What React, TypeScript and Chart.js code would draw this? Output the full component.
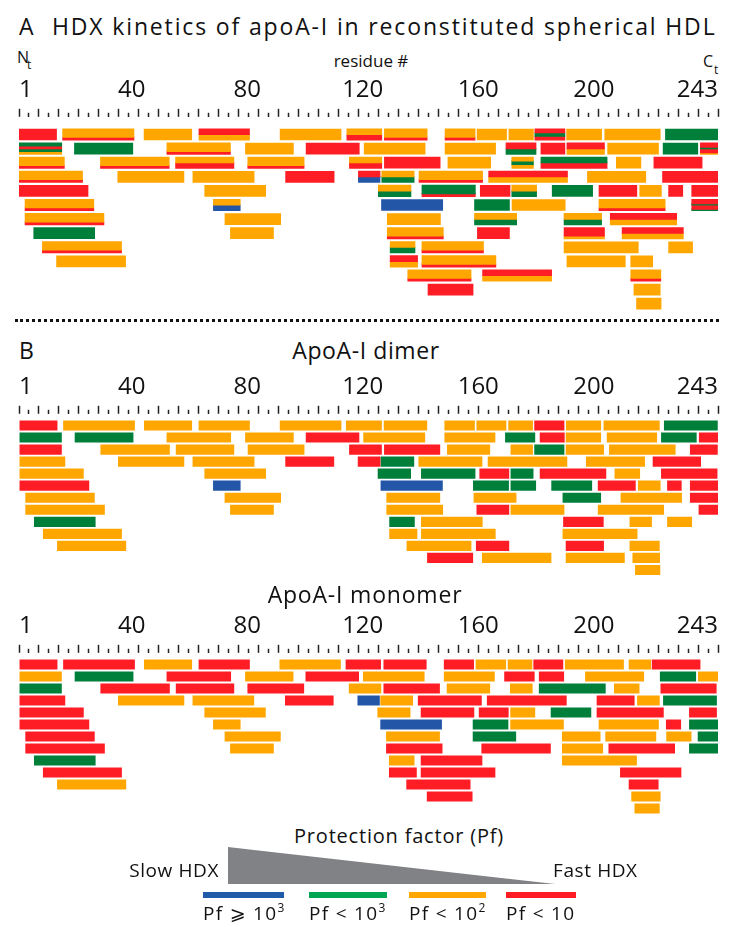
import React, { useEffect, useRef } from 'react';
import { Chart, registerables } from 'chart.js';

Chart.register(...registerables);

// ---------- data ----------
// peptide: [first residue, last residue, row, protection class code]
// class letters: R = Pf<10, O = Pf<10^2, G = Pf<10^3, B = Pf>=10^3
// several letters = mixed (bimodal) classes stacked top→bottom; lowercase = minor part
type Peptide = [number, number, number, string];

const residueTickLabels = [1, 40, 80, 120, 160, 200, 243];
const residueMin = 1;
const residueMax = 243;

const hdlPeptides: Peptide[] = [
  [1.1, 14.0, 0, 'R'], [16.1, 40.8, 0, 'Or'], [44.3, 60.8, 0, 'O'], [63.3, 80.8, 0, 'RO'], [91.4, 112.5, 0, 'O'], [114.5, 126.6, 0, 'OR'], [127.5, 142.3, 0, 'Or'], [148.5, 158.9, 0, 'Or'], [159.6, 169.8, 0, 'O'], [170.6, 179.1, 0, 'O'], [179.6, 190.0, 0, 'RGR'], [190.6, 202.7, 0, 'O'], [203.8, 223.0, 0, 'O'], [224.8, 243, 0, 'G'],
  [1.1, 15.8, 1, 'GRGO'], [20.2, 40.4, 1, 'G'], [52.2, 74.2, 1, 'Or'], [79.4, 96.0, 1, 'O'], [100.4, 118.8, 1, 'R'], [120.5, 141.6, 1, 'O'], [148.5, 166.0, 1, 'O'], [169.6, 180.0, 1, 'RG'], [181.7, 190.0, 1, 'R'], [190.7, 203.7, 1, 'RO'], [204.8, 222.4, 1, 'O'], [224.0, 236.0, 1, 'G'], [236.9, 243, 1, 'RgRo'],
  [1.1, 16.7, 2, 'Or'], [29.2, 53.0, 2, 'Or'], [55.2, 75.4, 2, 'OR'], [80.2, 99.7, 2, 'Or'], [115.4, 126.6, 2, 'OR'], [127.5, 146.8, 2, 'R'], [149.5, 164.3, 2, 'O'], [171.6, 179.1, 2, 'OGO'], [181.7, 204.6, 2, 'GR'], [207.8, 216.3, 2, 'O'], [220.8, 237.5, 2, 'R'],
  [1.1, 23.0, 3, 'Or'], [35.2, 58.1, 3, 'O'], [61.2, 82.4, 3, 'O'], [93.3, 110.1, 3, 'R'], [118.5, 126.0, 3, 'RB'], [126.6, 137.8, 3, 'OG'], [139.5, 161.5, 3, 'Or'], [163.6, 190.9, 3, 'RO'], [197.8, 218.0, 3, 'O'], [223.8, 243, 3, 'R'],
  [1.1, 24.9, 4, 'R'], [65.3, 86.4, 4, 'O'], [125.4, 136.7, 4, 'OG'], [140.5, 159.0, 4, 'Gr'], [160.7, 171.0, 4, 'R'], [171.6, 180.2, 4, 'OG'], [185.6, 199.6, 4, 'G'], [201.8, 214.9, 4, 'R'], [215.9, 223.4, 4, 'O'], [225.9, 230.8, 4, 'R'], [233.9, 243, 4, 'R'],
  [3.1, 26.9, 5, 'Or'], [68.3, 77.6, 5, 'OB'], [126.5, 147.7, 5, 'B'], [158.7, 170.8, 5, 'G'], [171.7, 190.1, 5, 'O'], [201.8, 224.7, 5, 'Or'], [233.9, 243, 5, 'RgRg'],
  [3.1, 30.4, 6, 'Or'], [72.3, 91.6, 6, 'O'], [128.5, 146.9, 6, 'O'], [158.7, 173.3, 6, 'OG'], [189.7, 202.7, 6, 'OG'], [205.7, 228.7, 6, 'RO'],
  [6.1, 27.2, 7, 'G'], [74.2, 89.1, 7, 'O'], [128.5, 147.9, 7, 'Or'], [159.7, 170.8, 7, 'R'], [189.7, 203.7, 7, 'Ro'], [209.8, 231.0, 7, 'RO'],
  [9.1, 36.5, 8, 'Or'], [129.5, 138.1, 8, 'OG'], [140.5, 161.8, 8, 'Or'], [189.7, 215.4, 8, 'O'], [225.9, 234.2, 8, 'O'],
  [14.0, 37.9, 9, 'O'], [129.5, 139.0, 9, 'RO'], [140.5, 166.1, 9, 'Or'], [190.7, 210.9, 9, 'O'], [212.8, 220.4, 9, 'O'],
  [135.6, 157.5, 10, 'Or'], [161.5, 185.4, 10, 'RO'], [212.8, 223.2, 10, 'Or'],
  [142.6, 158.2, 11, 'R'], [213.9, 223.0, 11, 'O'],
  [214.8, 223.3, 12, 'O'],
];

const dimerPeptides: Peptide[] = [
  [1.3, 14.2, 0, 'R'], [16.4, 41.0, 0, 'O'], [44.4, 60.8, 0, 'O'], [63.3, 80.8, 0, 'O'], [91.4, 112.5, 0, 'O'], [114.3, 126.5, 0, 'O'], [127.4, 142.2, 0, 'O'], [148.4, 158.7, 0, 'O'], [159.5, 169.6, 0, 'O'], [170.5, 178.8, 0, 'O'], [179.5, 189.7, 0, 'R'], [190.5, 202.4, 0, 'O'], [203.5, 222.7, 0, 'O'], [224.4, 242.8, 0, 'G'],
  [1.3, 15.7, 1, 'G'], [20.4, 40.5, 1, 'G'], [52.2, 74.3, 1, 'O'], [79.4, 96.0, 1, 'O'], [100.4, 118.7, 1, 'R'], [120.3, 141.5, 1, 'O'], [148.4, 165.8, 1, 'O'], [169.4, 179.6, 1, 'G'], [181.4, 189.8, 1, 'R'], [190.4, 202.4, 1, 'O'], [204.6, 221.8, 1, 'O'], [223.4, 235.5, 1, 'G'], [236.5, 243, 1, 'R'],
  [1.3, 15.7, 2, 'R'], [29.3, 53.1, 2, 'O'], [55.4, 75.4, 2, 'O'], [80.3, 99.7, 2, 'O'], [115.4, 126.5, 2, 'R'], [127.5, 146.7, 2, 'R'], [149.3, 164.0, 2, 'O'], [171.3, 178.8, 2, 'O'], [179.5, 189.7, 2, 'G'], [190.4, 203.4, 2, 'O'], [205.4, 228.2, 2, 'O'], [233.4, 242.8, 2, 'R'],
  [1.3, 16.9, 3, 'O'], [35.4, 58.1, 3, 'O'], [61.2, 82.4, 3, 'O'], [93.3, 110.0, 3, 'R'], [118.4, 126.0, 3, 'R'], [126.3, 137.7, 3, 'G'], [139.4, 161.3, 3, 'O'], [163.4, 190.7, 3, 'O'], [197.4, 217.6, 3, 'O'], [220.5, 237.0, 3, 'R'],
  [1.3, 23.3, 4, 'O'], [65.3, 86.4, 4, 'O'], [125.3, 136.6, 4, 'G'], [140.3, 158.9, 4, 'G'], [160.5, 170.6, 4, 'R'], [171.3, 179.0, 4, 'G'], [181.4, 204.2, 4, 'R'], [207.3, 215.9, 4, 'O'], [223.4, 242.7, 4, 'R'],
  [1.3, 25.2, 5, 'R'], [68.3, 77.6, 5, 'B'], [126.3, 147.6, 5, 'B'], [158.3, 170.5, 5, 'G'], [171.3, 179.9, 5, 'G'], [185.4, 199.3, 5, 'G'], [201.5, 214.4, 5, 'R'], [215.4, 223.0, 5, 'O'], [225.5, 230.3, 5, 'R'], [233.4, 243, 5, 'R'],
  [3.3, 27.1, 6, 'O'], [72.3, 91.6, 6, 'O'], [128.3, 146.7, 6, 'O'], [158.5, 173.1, 6, 'O'], [189.3, 202.4, 6, 'G'], [209.4, 230.4, 6, 'O'], [233.4, 243, 6, 'R'],
  [3.3, 30.6, 7, 'O'], [74.2, 89.1, 7, 'O'], [128.3, 147.7, 7, 'O'], [159.5, 170.6, 7, 'R'], [171.3, 189.7, 7, 'O'], [201.5, 224.2, 7, 'O'], [236.4, 243, 7, 'R'],
  [6.3, 27.4, 8, 'G'], [129.3, 137.9, 8, 'G'], [140.3, 161.4, 8, 'O'], [189.5, 203.3, 8, 'R'], [212.5, 220.0, 8, 'O'], [225.5, 233.9, 8, 'O'],
  [9.4, 36.5, 9, 'O'], [129.3, 138.8, 9, 'O'], [140.3, 165.9, 9, 'O'], [189.3, 215.0, 9, 'O'],
  [14.3, 38.0, 10, 'O'], [135.3, 157.5, 10, 'O'], [159.3, 170.6, 10, 'R'], [190.4, 203.4, 10, 'R'], [212.5, 222.7, 10, 'O'],
  [142.4, 158.1, 11, 'R'], [161.4, 185.2, 11, 'O'], [190.4, 210.6, 11, 'O'], [213.5, 222.8, 11, 'O'],
  [214.4, 222.9, 12, 'O'],
];

const monomerPeptides: Peptide[] = [
  [1.3, 14.2, 0, 'R'], [16.4, 41.0, 0, 'R'], [44.4, 60.8, 0, 'O'], [63.3, 80.8, 0, 'R'], [91.3, 112.3, 0, 'O'], [114.2, 126.2, 0, 'R'], [127.3, 142.0, 0, 'R'], [148.2, 158.4, 0, 'R'], [159.2, 169.5, 0, 'O'], [170.3, 178.6, 0, 'O'], [179.2, 189.3, 0, 'R'], [190.1, 210.3, 0, 'O'], [212.2, 219.7, 0, 'O'], [220.2, 236.8, 0, 'R'],
  [1.3, 15.7, 1, 'O'], [20.4, 40.5, 1, 'G'], [52.2, 74.3, 1, 'R'], [79.4, 95.9, 1, 'O'], [100.3, 118.6, 1, 'R'], [120.2, 141.3, 1, 'O'], [148.2, 165.6, 1, 'O'], [169.1, 179.4, 1, 'R'], [181.1, 189.6, 1, 'R'], [197.1, 217.3, 1, 'O'], [223.0, 235.3, 1, 'G'], [236.2, 243, 1, 'O'],
  [1.3, 15.7, 2, 'G'], [29.3, 53.1, 2, 'R'], [55.4, 75.4, 2, 'R'], [80.2, 99.6, 2, 'R'], [115.3, 126.3, 2, 'O'], [127.3, 146.6, 2, 'R'], [149.2, 164.0, 2, 'O'], [171.1, 178.7, 2, 'O'], [181.1, 204.0, 2, 'G'], [207.1, 215.7, 2, 'O'], [223.2, 242.4, 2, 'R'],
  [1.3, 16.9, 3, 'R'], [35.4, 58.1, 3, 'O'], [61.2, 82.3, 3, 'O'], [93.2, 109.8, 3, 'R'], [118.3, 125.8, 3, 'B'], [126.2, 137.3, 3, 'O'], [139.2, 161.1, 3, 'R'], [163.1, 190.5, 3, 'R'], [201.1, 214.0, 3, 'R'], [215.1, 222.7, 3, 'O'], [224.1, 242.5, 3, 'G'],
  [1.3, 23.3, 4, 'R'], [65.3, 86.3, 4, 'O'], [125.2, 136.4, 4, 'O'], [140.2, 158.5, 4, 'R'], [160.3, 170.4, 4, 'R'], [171.2, 179.6, 4, 'O'], [185.2, 199.0, 4, 'G'], [201.1, 224.1, 4, 'R'], [233.1, 242.5, 4, 'R'],
  [1.3, 25.2, 5, 'R'], [68.3, 77.6, 5, 'O'], [126.2, 147.3, 5, 'B'], [158.2, 170.3, 5, 'G'], [171.2, 189.5, 5, 'O'], [201.8, 222.4, 5, 'O'], [225.1, 230.1, 5, 'R'], [233.1, 243, 5, 'G'],
  [3.3, 27.1, 6, 'R'], [72.3, 91.5, 6, 'O'], [128.2, 146.6, 6, 'O'], [158.2, 173.0, 6, 'G'], [189.1, 202.2, 6, 'O'], [204.1, 221.5, 6, 'O'], [225.2, 233.7, 6, 'O'], [236.1, 243, 6, 'G'],
  [3.3, 30.6, 7, 'R'], [74.2, 89.1, 7, 'O'], [128.2, 147.5, 7, 'R'], [161.2, 185.0, 7, 'R'], [189.1, 203.1, 7, 'O'], [205.2, 228.0, 7, 'R'], [233.1, 243, 7, 'G'],
  [6.3, 27.4, 8, 'G'], [129.2, 137.8, 8, 'O'], [140.2, 161.3, 8, 'R'], [189.1, 214.8, 8, 'O'],
  [9.4, 36.5, 9, 'R'], [129.2, 138.6, 9, 'R'], [140.2, 165.8, 9, 'R'], [209.2, 230.2, 9, 'R'],
  [14.3, 38.0, 10, 'O'], [135.2, 157.2, 10, 'R'], [212.2, 222.3, 10, 'R'],
  [142.3, 157.9, 11, 'R'], [213.1, 223.0, 11, 'O'],
  [214.2, 222.7, 12, 'O'],
];

const legendClasses = ['B', 'G', 'O', 'R'];
const legendLabelBase = ['Pf \u2A7E 10', 'Pf < 10', 'Pf < 10', 'Pf < 10'];
const legendLabelExp = ['3', '3', '2', ''];

// ---------- styling ----------
const FONT = "'Open Sans', 'DejaVu Sans', sans-serif";
const classColor: Record<string, string> = { R: '#ff1d25', O: '#ffa600', G: '#007f3b', B: '#2456a7' };
const legendColor: Record<string, string> = { R: '#ff1d25', O: '#ffa600', G: '#00a651', B: '#1f5ba8' };
const tickMarkCount = 71;

function stripesOf(code: string) {
  const parts = code.split('').map((ch) => ({ c: ch.toUpperCase(), w: ch === ch.toUpperCase() ? 3 : 1 }));
  const total = parts.reduce((a, p) => a + p.w, 0);
  let acc = 0;
  return parts.map((p) => {
    const f0 = acc / total;
    acc += p.w;
    return { color: classColor[p.c], f0, f1: acc / total, n: parts.length };
  });
}

type PanelProps = {
  peptides: Peptide[];
  top: number;
  height: number;
  barPx: number;
  pitchPx: number;
  firstRowOffset: number;
  labelPadding: number;
};

function PeptideChart({ peptides, top, height, barPx, pitchPx, firstRowOffset, labelPadding }: PanelProps) {
  const ref = useRef<HTMLCanvasElement>(null);
  useEffect(() => {
    if (!ref.current) return;
    const datasets: any[] = [];
    for (const [s, e, row, code] of peptides) {
      for (const st of stripesOf(code)) {
        const centerFrac = (st.f0 + st.f1) / 2 - 0.5;
        const thick = (st.f1 - st.f0) * barPx + (st.n > 1 ? 0.4 : 0);
        datasets.push({
          data: [{ x: [s, e], y: row + (centerFrac * barPx) / pitchPx }],
          backgroundColor: st.color,
          barThickness: thick,
          grouped: false,
          borderWidth: 0,
        });
      }
    }
    const labelFontSize = 24;
    const axisBlock = labelFontSize * 1.2 + 2 * labelPadding + 8;
    const yMin = -firstRowOffset / pitchPx;
    const yMax = yMin + (height - axisBlock) / pitchPx;
    const tickMarks = Array.from({ length: tickMarkCount }, (_, i) => residueMin + (i * (residueMax - residueMin)) / (tickMarkCount - 1));
    const chart = new Chart(ref.current, {
      type: 'bar',
      data: { datasets },
      options: {
        indexAxis: 'y',
        responsive: true,
        maintainAspectRatio: false,
        animation: false,
        events: [],
        layout: { padding: { left: 19, right: 11, top: 0, bottom: 0 } },
        plugins: { legend: { display: false }, tooltip: { enabled: false } },
        scales: {
          x: {
            type: 'linear',
            position: 'top',
            bounds: 'data',
            offset: false,
            min: residueMin,
            max: residueMax,
            weight: 1,
            afterBuildTicks: (scale: any) => {
              scale.ticks = residueTickLabels.map((v) => ({ value: v }));
              scale.min = residueMin;
              scale.max = residueMax;
            },
            ticks: {
              font: { family: FONT, size: labelFontSize },
              color: '#111',
              padding: labelPadding,
              align: 'inner',
              maxRotation: 0,
              autoSkip: false,
            },
            grid: { display: false, drawTicks: false },
            border: { display: false },
          },
          xt: {
            type: 'linear',
            axis: 'x',
            position: 'top',
            bounds: 'data',
            offset: false,
            min: residueMin,
            max: residueMax,
            weight: 0,
            afterBuildTicks: (scale: any) => {
              scale.ticks = tickMarks.map((v) => ({ value: v }));
              scale.min = residueMin;
              scale.max = residueMax;
            },
            ticks: { display: false },
            grid: {
              display: true,
              offset: false,
              drawOnChartArea: false,
              drawTicks: true,
              tickLength: 8,
              tickWidth: 1.5,
              tickColor: '#222',
              tickBorderDash: [8, 4],
              tickBorderDashOffset: (ctx: any) => (ctx.index % 2 === 1 ? 8 : 0),
            },
            border: { display: false },
          },
          y: {
            type: 'linear',
            reverse: true,
            bounds: 'data',
            offset: false,
            grid: { offset: false },
            min: yMin,
            max: yMax,
            afterBuildTicks: (scale: any) => {
              scale.min = yMin;
              scale.max = yMax;
            },
            display: false,
          },
        },
      } as any,
    });
    return () => chart.destroy();
  }, [peptides, top, height, barPx, pitchPx, firstRowOffset, labelPadding]);
  return (
    <div style={{ position: 'absolute', left: 0, top, width: 729, height }}>
      <canvas ref={ref} />
    </div>
  );
}

function Txt({ x, baseline, size, children, align = 'left', spacing = 0 }: any) {
  const style: any = {
    position: 'absolute',
    top: baseline - 0.888 * size,
    fontFamily: FONT,
    fontSize: size,
    lineHeight: 1,
    whiteSpace: 'nowrap',
    color: '#111',
    letterSpacing: spacing,
  };
  if (align === 'center') {
    style.left = x;
    style.transform = 'translateX(-50%)';
  } else if (align === 'right') {
    style.right = 729 - x;
  } else {
    style.left = x;
  }
  return <div style={style}>{children}</div>;
}

export default function App() {
  const legendX = [203, 309, 409, 506];
  const legendW = [81, 78, 77, 70];
  return (
    <div style={{ position: 'absolute', left: 0, top: 0, width: 729, height: 927, background: '#fff', overflow: 'hidden' }}>
      <Txt x={19} baseline={35} size={23}>A</Txt>
      <Txt x={52} baseline={35} size={23} spacing={1.85}>HDX kinetics of apoA-I in reconstituted spherical HDL</Txt>
      <Txt x={17} baseline={63} size={16}>N</Txt>
      <Txt x={27} baseline={70} size={12}>t</Txt>
      <Txt x={371} baseline={67} size={17} align="center">residue #</Txt>
      <Txt x={703} baseline={67} size={16}>C</Txt>
      <Txt x={714} baseline={75} size={12}>t</Txt>
      <PeptideChart peptides={hdlPeptides} top={72} height={246} barPx={11} pitchPx={14.1} firstRowOffset={17.7} labelPadding={4} />

      <div style={{ position: 'absolute', left: 15, top: 319, width: 704, borderTop: '3px dotted #111' }} />

      <Txt x={19} baseline={359} size={23}>B</Txt>
      <Txt x={366} baseline={359} size={23} align="center" spacing={0.6}>ApoA-I dimer</Txt>
      <PeptideChart peptides={dimerPeptides} top={369} height={210} barPx={9.5} pitchPx={12.04} firstRowOffset={11.7} labelPadding={4} />

      <Txt x={365} baseline={603} size={23} align="center" spacing={0.8}>ApoA-I monomer</Txt>
      <PeptideChart peptides={monomerPeptides} top={608} height={211} barPx={9.5} pitchPx={12} firstRowOffset={11.7} labelPadding={4} />

      <Txt x={399} baseline={844} size={20} align="center" spacing={0.8}>Protection factor (Pf)</Txt>
      <svg style={{ position: 'absolute', left: 0, top: 0 }} width={729} height={927}>
        <polygon points="228,847 228,884 555,884" fill="#808285" />
      </svg>
      <Txt x={219} baseline={878} size={19} align="right" spacing={0.6}>Slow HDX</Txt>
      <Txt x={553} baseline={878} size={19} spacing={0.6}>Fast HDX</Txt>
      {legendClasses.map((c, i) => (
        <div key={c} style={{ position: 'absolute', left: legendX[i], top: 892, width: legendW[i], height: 6, background: legendColor[c] }} />
      ))}
      {legendClasses.map((c, i) => (
        <Txt key={'l' + c} x={legendX[i]} baseline={921} size={19} spacing={1.3}>
          {legendLabelBase[i]}
          {legendLabelExp[i] ? <span style={{ fontSize: 12, position: 'relative', top: -8 }}>{legendLabelExp[i]}</span> : null}
        </Txt>
      ))}
    </div>
  );
}
